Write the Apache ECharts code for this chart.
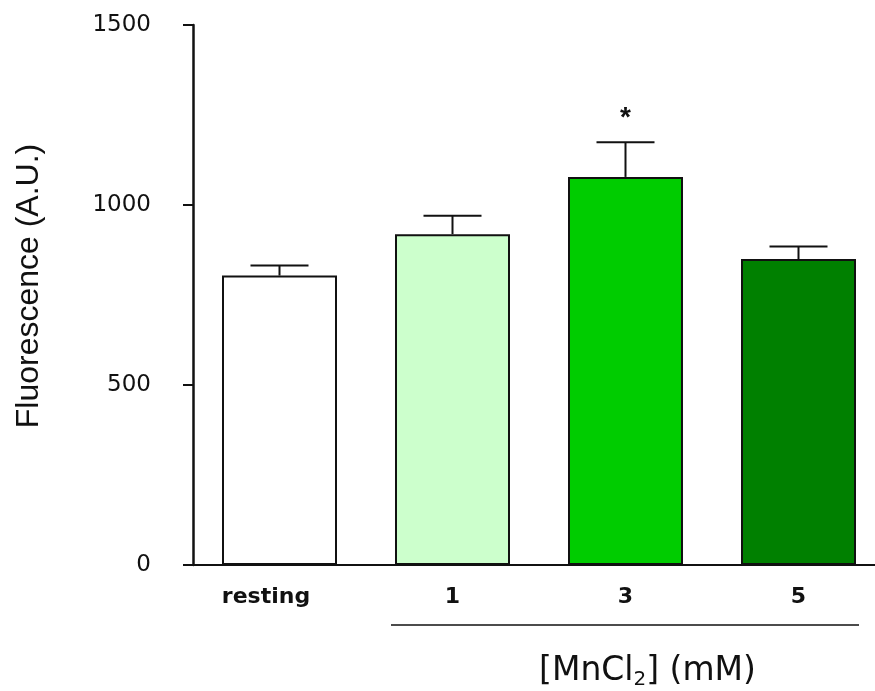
<!DOCTYPE html>
<html>
<head>
<meta charset="utf-8">
<script src="https://cdn.jsdelivr.net/npm/echarts@6/dist/echarts.min.js"></script>
<style>
  html, body { margin: 0; padding: 0; background: #fff; }
  #chart { width: 875px; height: 691px; }
</style>
</head>
<body>
<div id="chart"></div>
<script>
// Mean fluorescence per condition with SEM (upper error bar only)
const categories = ['resting', '1', '3', '5'];
const meanValues = [804, 919, 1078, 850];
const semValues = [28, 51, 96, 35];
const barColors = ['#ffffff', '#ccffcc', '#00cc00', '#008000'];
const significance = ['', '', '*', ''];
const yMin = 0, yMax = 1500, yStep = 500;

const WIDE = '"DejaVu Sans", sans-serif';
const ARIAL = '"Liberation Sans", Arial, sans-serif';
const BAR_W = 115;

const chart = echarts.init(document.getElementById('chart'), null, { renderer: 'canvas' });

const errorData = categories.map((c, i) => [i, meanValues[i], meanValues[i] + semValues[i]]);

function renderError(params, api) {
  const i = api.value(0);
  const base = api.coord([i, api.value(1)]);
  const top = api.coord([i, api.value(2)]);
  const half = 29;
  const style = { stroke: '#111', lineWidth: 2 };
  const children = [
    { type: 'line', shape: { x1: base[0], y1: base[1], x2: top[0], y2: top[1] }, style },
    { type: 'line', shape: { x1: top[0] - half, y1: top[1], x2: top[0] + half, y2: top[1] }, style }
  ];
  if (significance[i]) {
    children.push({
      type: 'text',
      style: {
        text: significance[i], x: top[0], y: top[1] - 24,
        align: 'center', verticalAlign: 'middle',
        font: 'bold 28px ' + ARIAL, fill: '#111'
      }
    });
  }
  return { type: 'group', children };
}

chart.setOption({
  animation: false,
  backgroundColor: '#fff',
  grid: { left: 193, top: 25, bottom: 126, width: 692, containLabel: false, outerBoundsMode: 'none' },
  xAxis: {
    type: 'category',
    data: categories,
    axisLine: { lineStyle: { color: '#111', width: 2 } },
    axisTick: { show: false },
    axisLabel: {
      interval: 0,
      hideOverlap: false,
      margin: 21,
      fontFamily: WIDE, fontSize: 22, fontWeight: 'bold', color: '#111',
      formatter: v => v === 'resting' ? '{r|' + v + '}' : v,
      rich: { r: { fontFamily: WIDE, fontSize: 22, fontWeight: 'bold', color: '#111', padding: [0, 27, 0, 0] } }
    }
  },
  yAxis: {
    type: 'value',
    min: yMin, max: yMax, interval: yStep,
    name: 'Fluorescence (A.U.)',
    nameLocation: 'middle',
    nameRotate: 90,
    nameGap: 148,
    nameTextStyle: { fontFamily: ARIAL, fontSize: 32, color: '#111', padding: [0, 0, 0, 18] },
    axisLine: { show: true, lineStyle: { color: '#111', width: 2.5 } },
    axisTick: { show: true, inside: false, length: 10, lineStyle: { color: '#111', width: 2 } },
    axisLabel: { margin: 42, fontFamily: WIDE, fontSize: 23, color: '#111', formatter: v => String(v) },
    splitLine: { show: false }
  },
  series: [
    {
      type: 'bar',
      barWidth: BAR_W,
      data: meanValues.map((v, i) => ({
        value: v,
        itemStyle: { color: barColors[i], borderColor: '#111', borderWidth: 2 }
      })),
      z: 2
    },
    {
      type: 'custom',
      renderItem: renderError,
      data: errorData,
      z: 3
    }
  ]
});

// Bracket under the MnCl2 concentrations and its caption
function drawBracket() {
  const first = chart.convertToPixel({ xAxisIndex: 0 }, '1');
  const last = chart.convertToPixel({ xAxisIndex: 0 }, '5');
  const mid = chart.convertToPixel({ xAxisIndex: 0 }, '3');
  const x1 = first - BAR_W / 2 - 4;
  const x2 = last + BAR_W / 2 + 3;
  chart.setOption({
    graphic: [
      { type: 'line', shape: { x1, y1: 625, x2, y2: 625 }, style: { stroke: '#111', lineWidth: 1.5 } },
      {
        type: 'text', x: mid + 22, y: 671,
        style: {
          text: '{a|[MnCl}{s|2}{a|] (mM)}',
          align: 'center', verticalAlign: 'middle',
          rich: {
            a: { fontFamily: WIDE, fontSize: 33, fill: '#111', lineHeight: 38 },
            s: { fontFamily: WIDE, fontSize: 20, fill: '#111', verticalAlign: 'bottom', lineHeight: 38, padding: [13, 0, 0, 0] }
          }
        }
      }
    ]
  });
}
drawBracket();
</script>
</body>
</html>
